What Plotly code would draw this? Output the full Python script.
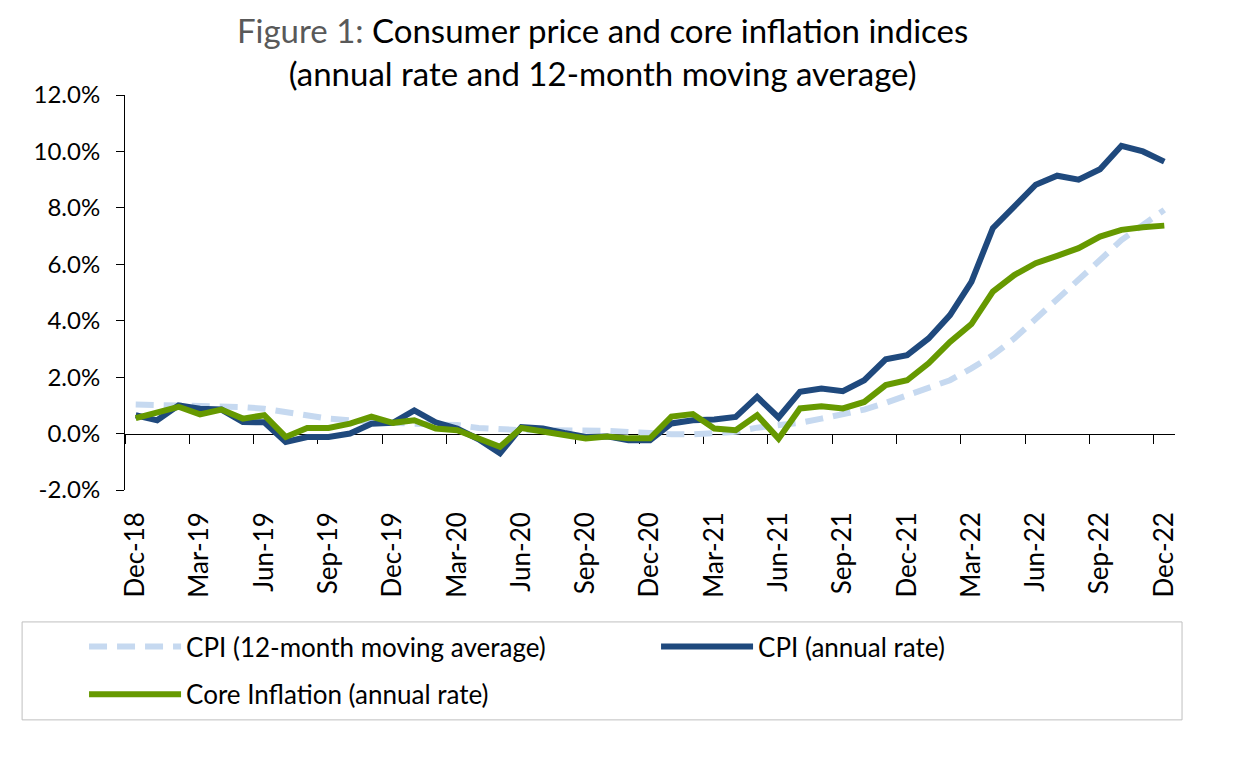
import plotly.graph_objects as go

months = ['Dec-18', 'Jan-19', 'Feb-19', 'Mar-19', 'Apr-19', 'May-19', 'Jun-19', 'Jul-19',
          'Aug-19', 'Sep-19', 'Oct-19', 'Nov-19', 'Dec-19', 'Jan-20', 'Feb-20', 'Mar-20',
          'Apr-20', 'May-20', 'Jun-20', 'Jul-20', 'Aug-20', 'Sep-20', 'Oct-20', 'Nov-20',
          'Dec-20', 'Jan-21', 'Feb-21', 'Mar-21', 'Apr-21', 'May-21', 'Jun-21', 'Jul-21',
          'Aug-21', 'Sep-21', 'Oct-21', 'Nov-21', 'Dec-21', 'Jan-22', 'Feb-22', 'Mar-22',
          'Apr-22', 'May-22', 'Jun-22', 'Jul-22', 'Aug-22', 'Sep-22', 'Oct-22', 'Nov-22',
          'Dec-22']

# values in %
cpi_ma = [1.03, 1.02, 1.01, 1.0, 1.0, 0.94, 0.88, 0.76, 0.65, 0.53, 0.47, 0.4, 0.38,
          0.35, 0.33, 0.3, 0.2, 0.14, 0.12, 0.12, 0.12, 0.12, 0.1, 0.06, 0.0, -0.02,
          -0.03, 0.0, 0.06, 0.21, 0.3, 0.38, 0.53, 0.69, 0.85, 1.09, 1.36, 1.6, 1.89,
          2.31, 2.78, 3.37, 4.05, 4.73, 5.44, 6.15, 6.86, 7.4, 7.93]
cpi = [0.65, 0.47, 1.0, 0.88, 0.85, 0.41, 0.4, -0.3, -0.12, -0.12, 0.0, 0.35, 0.38,
       0.82, 0.4, 0.18, -0.2, -0.7, 0.23, 0.18, 0.02, -0.12, -0.1, -0.24, -0.24, 0.36,
       0.47, 0.5, 0.59, 1.3, 0.57, 1.48, 1.6, 1.5, 1.89, 2.63, 2.78, 3.37, 4.2, 5.38,
       7.28, 8.07, 8.82, 9.14, 9.0, 9.37, 10.2, 10.0, 9.64]
core = [0.55, 0.75, 0.95, 0.68, 0.85, 0.53, 0.65, -0.12, 0.2, 0.2, 0.35, 0.6, 0.38,
        0.47, 0.18, 0.12, -0.18, -0.47, 0.2, 0.1, -0.05, -0.17, -0.1, -0.17, -0.17, 0.6,
        0.69, 0.18, 0.12, 0.65, -0.18, 0.89, 0.97, 0.89, 1.12, 1.72, 1.89, 2.49, 3.25,
        3.88, 5.03, 5.62, 6.04, 6.3, 6.57, 6.98, 7.22, 7.31, 7.37]
y_ticks = [-2, 0, 2, 4, 6, 8, 10, 12]

FONT = 'Lato'
x = list(range(len(months)))
label_pos = x[::3]
label_txt = months[::3]
tick_pos = [i - 0.5 for i in label_pos]

fig = go.Figure()
fig.add_trace(go.Scatter(x=x, y=cpi_ma, mode='lines', name='CPI (12-month moving average)',
                         legendwidth=465,
                         line=dict(color='#c6d9f0', width=6, dash='18px,10px')))
fig.add_trace(go.Scatter(x=x, y=cpi, mode='lines', name='CPI (annual rate)',
                         line=dict(color='#1f497d', width=6)))
fig.add_trace(go.Scatter(x=x, y=core, mode='lines', name='Core Inflation (annual rate)',
                         xaxis='x2', legend='legend2',
                         line=dict(color='#669900', width=6)))

title = ("<span style='color:#595959'>Figure 1:</span> Consumer price and core inflation indices"
         "<br>(annual rate and 12-month moving average)")

# page body adds 8px around the figure, so the figure is 8px smaller each way
fig.update_layout(
    width=1226, height=754,
    margin=dict(l=117, r=59, t=87, b=272),
    paper_bgcolor='white', plot_bgcolor='white',
    font=dict(family=FONT, size=24, color='#000000'),
    title=dict(text=title, x=0.485, xanchor='center', y=0.953, yanchor='top',
               font=dict(family=FONT, size=33, color='#000000')),
    showlegend=True,
    legend=dict(orientation='h', x=-0.039, y=-0.337, xanchor='left', yanchor='top',
                itemwidth=92, bgcolor='rgba(0,0,0,0)', font=dict(family=FONT, size=26)),
    legend2=dict(orientation='h', x=-0.039, y=-0.458, xanchor='left', yanchor='top',
                 itemwidth=92, bgcolor='rgba(0,0,0,0)', font=dict(family=FONT, size=26)),
    xaxis=dict(range=[-0.5, 48.5], tickmode='array', tickvals=label_pos, ticktext=label_txt,
               tickangle=-90, ticks='', showline=False, showgrid=False, zeroline=False,
               tickfont=dict(family=FONT, size=26), ticklabelstandoff=16),
    xaxis2=dict(range=[-0.5, 48.5], overlaying='x', anchor='free', position=2 / 14,
                tickmode='array', tickvals=tick_pos, ticks='outside', ticklen=9,
                tickcolor='black', tickwidth=1, showticklabels=False, showline=True,
                linecolor='black', linewidth=1, showgrid=False, zeroline=False,
                layer='below traces'),
    yaxis=dict(range=[-2, 12], tickmode='array', tickvals=y_ticks,
               ticktext=[f'{v:.1f}%' for v in y_ticks], ticks='outside', ticklen=8,
               tickcolor='black', showline=True, linecolor='black', linewidth=1,
               showgrid=False, zeroline=False, tickfont=dict(family=FONT, size=24),
               ticklabelstandoff=11),
    shapes=[dict(type='rect', xref='paper', yref='paper', x0=-0.098, x1=1.0067,
                 y0=-0.582, y1=-0.334, line=dict(color='#bfbfbf', width=1),
                 fillcolor='rgba(0,0,0,0)', layer='below')],
)

fig.write_html('out.html')
